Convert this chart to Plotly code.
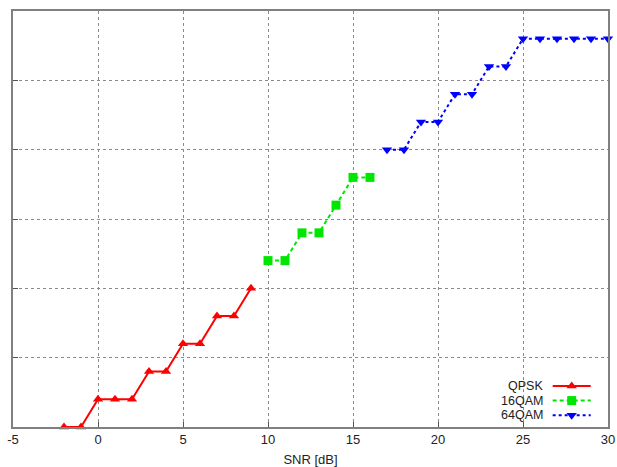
import plotly.graph_objects as go

# ---- data ----
qpsk_snr = [-2, -1, 0, 1, 2, 3, 4, 5, 6, 7, 8, 9]
qpsk_val = [0.0, 0.0, 0.4, 0.4, 0.4, 0.8, 0.8, 1.2, 1.2, 1.6, 1.6, 2.0]

qam16_snr = [10, 11, 12, 13, 14, 15, 16]
qam16_val = [2.4, 2.4, 2.8, 2.8, 3.2, 3.6, 3.6]

qam64_snr = [17, 18, 19, 20, 21, 22, 23, 24, 25, 26, 27, 28, 29, 30]
qam64_val = [4.0, 4.0, 4.4, 4.4, 4.8, 4.8, 5.2, 5.2, 5.6, 5.6, 5.6, 5.6, 5.6, 5.6]

x_ticks = [-5, 0, 5, 10, 15, 20, 25, 30]
y_ticks = [0, 1, 2, 3, 4, 5, 6]

series_names = ["QPSK", "16QAM", "64QAM"]
colors = ["#ff0000", "#00e600", "#0000ff"]
dashes = ["solid", "4px,3px", "dot"]
symbols = ["triangle-up", "square", "triangle-down"]

FONT = "Liberation Sans, Arial, sans-serif"

fig = go.Figure()
data = [(qpsk_snr, qpsk_val), (qam16_snr, qam16_val), (qam64_snr, qam64_val)]
for (xs, ys), name, c, d, s in zip(data, series_names, colors, dashes, symbols):
    fig.add_trace(go.Scatter(
        x=xs, y=ys, name=name, mode="lines+markers",
        line=dict(color=c, width=2, dash=d),
        marker=dict(symbol=s, size=9, color=c, line=dict(width=0)),
        cliponaxis=False, showlegend=False,
    ))

# ---- custom legend (text left, sample right, like the reference) ----
leg_y = [0.0986, 0.0635, 0.0285]
for name, c, d, s, ly in zip(series_names, colors, dashes, symbols, leg_y):
    fig.add_annotation(x=0.892, y=ly, xref="paper", yref="paper", text=name,
                       showarrow=False, xanchor="right", yanchor="middle",
                       borderpad=0,
                       font=dict(size=12.5, color="#222222", family=FONT))
    fig.add_shape(type="line", xref="paper", yref="paper",
                  x0=0.907, x1=0.971, y0=ly, y1=ly,
                  line=dict(color=c, width=2, dash=d))
    fig.add_trace(go.Scatter(x=[0.939], y=[ly], xaxis="x2", yaxis="y2",
                             mode="markers", showlegend=False, hoverinfo="skip",
                             marker=dict(symbol=s, size=9, color=c)))

axis_common = dict(
    showgrid=True, gridcolor="#8a8a8a", griddash="dot", gridwidth=1,
    showline=True, linecolor="#808080", linewidth=1.5, mirror=True,
    ticks="inside", ticklen=5, tickcolor="#555555", zeroline=False,
    automargin=False,
)

fig.update_layout(
    width=617, height=467,
    margin=dict(l=13, r=9, t=11, b=40),
    paper_bgcolor="white", plot_bgcolor="white",
    font=dict(family=FONT, size=13, color="#222222"),
    xaxis=dict(range=[-5, 30], tickvals=x_ticks, ticktext=[str(v) for v in x_ticks],
               title=dict(text="SNR [dB]", standoff=9, font=dict(size=13)),
               **axis_common),
    yaxis=dict(range=[0, 6], tickvals=y_ticks, showticklabels=False, **axis_common),
    xaxis2=dict(overlaying="x", range=[0, 1], visible=False),
    yaxis2=dict(overlaying="y", range=[0, 1], visible=False),
    showlegend=False,
)

fig.write_html("out.html", config={"displayModeBar": False},
               post_script="document.body.style.margin='0';document.body.style.padding='0';")
